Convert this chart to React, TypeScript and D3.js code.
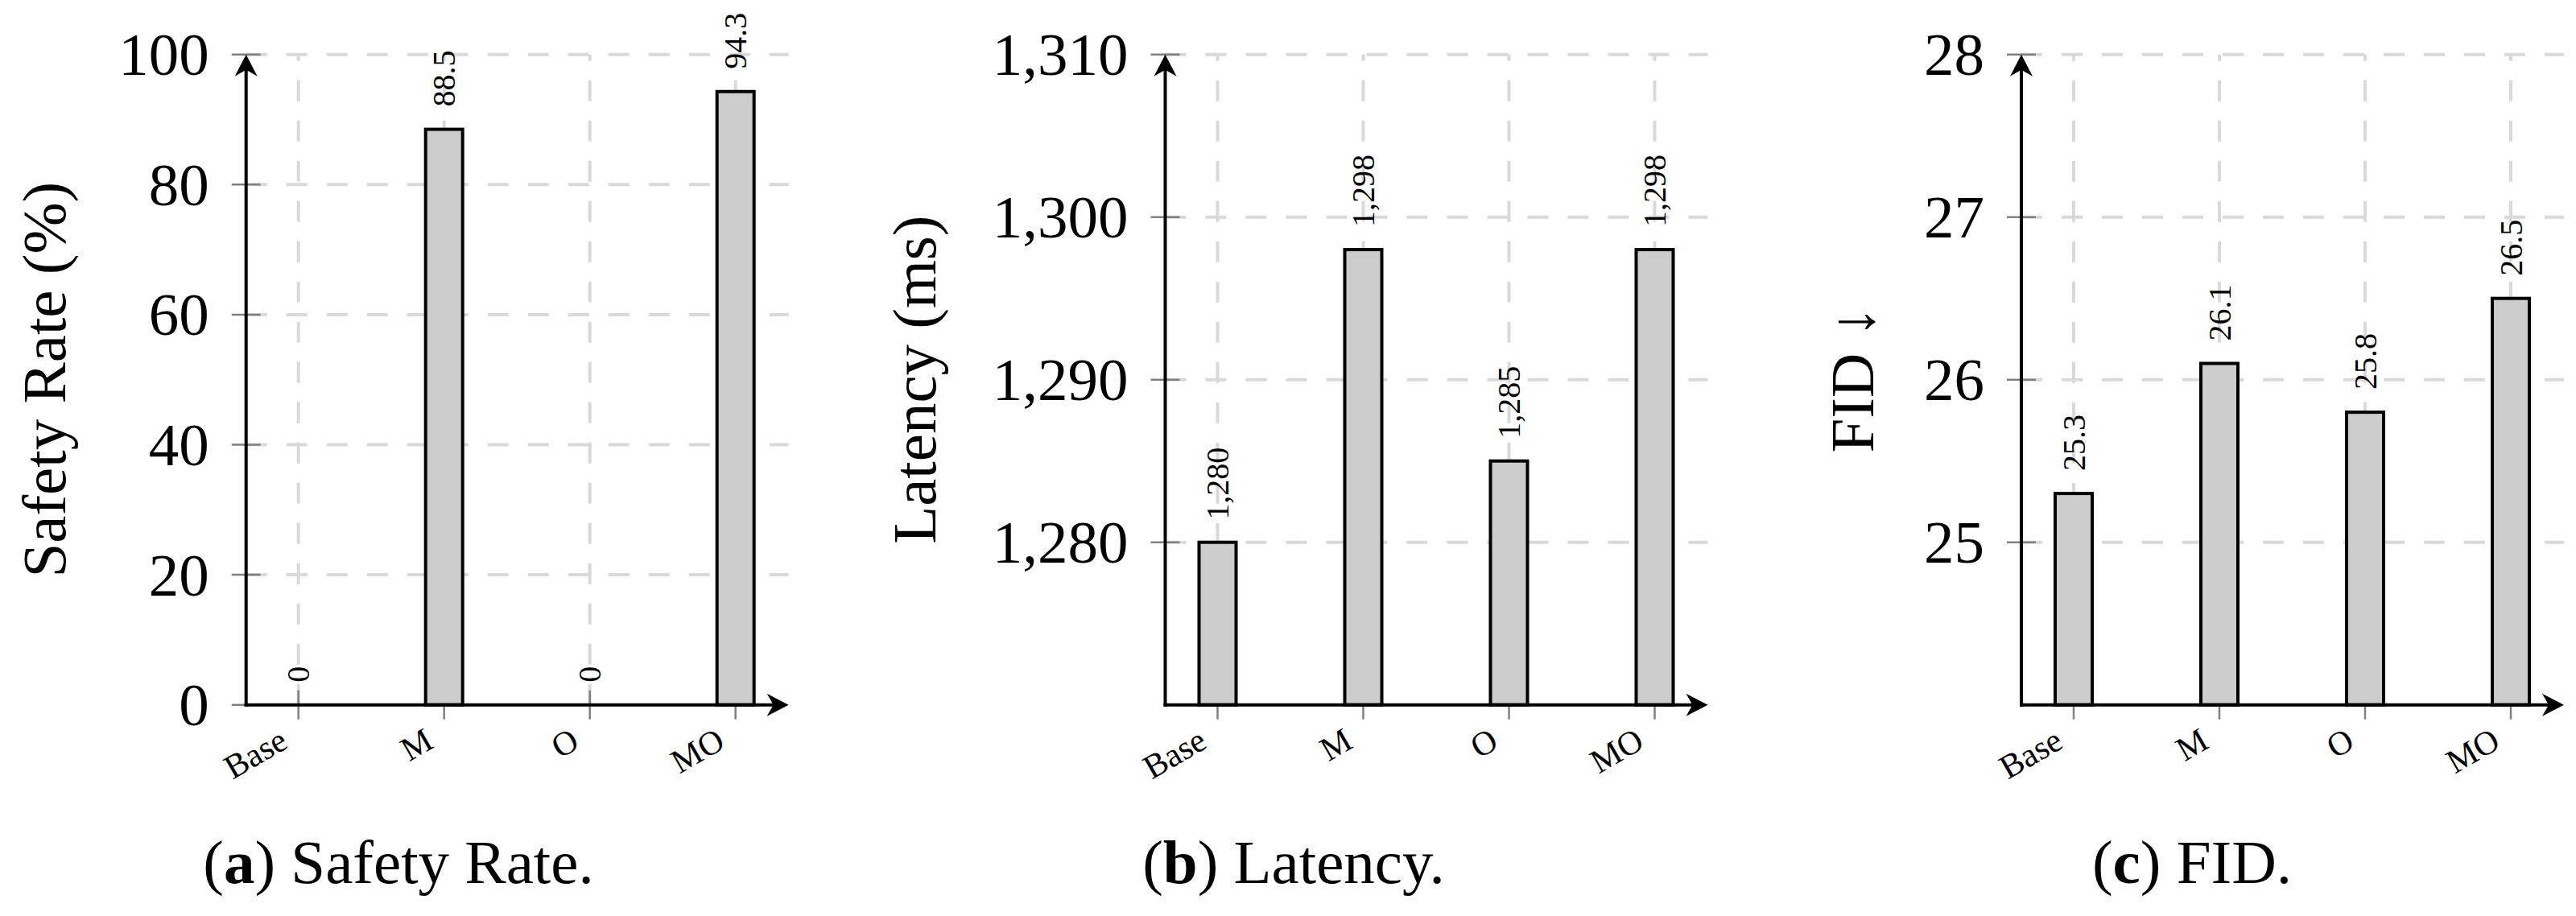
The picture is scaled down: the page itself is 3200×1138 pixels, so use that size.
import { useEffect } from "react";
import * as d3 from "d3";

// categories and values
const categories = ["Base", "M", "O", "MO"];
const safetyRate = [0, 88.5, 0, 94.3];
const latency = [1280, 1298, 1285, 1298];
const fid = [25.3, 26.1, 25.8, 26.5];

const safetyTicks = [0, 20, 40, 60, 80, 100];
const latencyTicks = [1280, 1290, 1300, 1310];
const fidTicks = [25, 26, 27, 28];

const W = 3200;
const H = 1138;
const TOP = 67.7;
const BOTTOM = 875.7;
const FONT = "'Liberation Serif', 'DejaVu Serif', serif";
const fmt = d3.format(",");

function Arrow({ x, y, angle }) {
  return (
    <path
      d="M0,0 L-27,-14 L-19,0 L-27,14 Z"
      transform={`translate(${x},${y}) rotate(${angle})`}
      fill="#000"
    />
  );
}

function Panel({ x0, values, domain, ticks, title, titleX, letter, caption, captionX }) {
  const len = 674;
  const x = d3.scalePoint(categories, [x0 + 65, x0 + 65 + 3 * 181]);
  const y = d3.scaleLinear(domain, [BOTTOM, TOP]);
  const midY = (TOP + BOTTOM) / 2;

  return (
    <g fontFamily={FONT}>
      {/* grid */}
      {ticks.filter(t => t !== domain[0]).map(t => (
        <line key={"gh" + t} x1={x0} x2={x0 + len} y1={y(t)} y2={y(t)}
          stroke="#d9d9d9" strokeWidth={4} strokeDasharray="26 24" />
      ))}
      {categories.map(c => (
        <line key={"gv" + c} x1={x(c)} x2={x(c)} y1={BOTTOM} y2={TOP}
          stroke="#d9d9d9" strokeWidth={4} strokeDasharray="26 24" />
      ))}
      {/* ticks */}
      {ticks.map(t => (
        <line key={"ty" + t} x1={x0 - 18} x2={x0 + 18} y1={y(t)} y2={y(t)} stroke="#808080" strokeWidth={2.5} />
      ))}
      {categories.map(c => (
        <line key={"tx" + c} x1={x(c)} x2={x(c)} y1={BOTTOM - 18} y2={BOTTOM + 18} stroke="#808080" strokeWidth={2.5} />
      ))}
      {/* bars */}
      {values.map((v, i) => (
        <rect key={"b" + i} x={x(categories[i]) - 23} width={46} y={y(v)} height={BOTTOM - y(v)}
          fill="#cccccc" stroke="#000" strokeWidth={4} />
      ))}
      {/* axes */}
      <line x1={x0} x2={x0} y1={BOTTOM + 2} y2={TOP + 10} stroke="#000" strokeWidth={4} />
      <Arrow x={x0} y={TOP} angle={-90} />
      <line x1={x0 - 2} x2={x0 + len - 10} y1={BOTTOM} y2={BOTTOM} stroke="#000" strokeWidth={4} />
      <Arrow x={x0 + len} y={BOTTOM} angle={0} />
      {/* value labels */}
      {values.map((v, i) => (
        <text key={"v" + i} transform={`translate(${x(categories[i])},${y(v) - 28}) rotate(-90)`}
          fontSize={40} dominantBaseline="central" textAnchor="start">{fmt(v)}</text>
      ))}
      {/* tick labels */}
      {ticks.map(t => (
        <text key={"yl" + t} x={x0 - 46} y={y(t)} fontSize={75} textAnchor="end" dominantBaseline="central">{fmt(t)}</text>
      ))}
      {categories.map(c => (
        <text key={"xl" + c} transform={`translate(${x(c) - 18},${BOTTOM + 40}) rotate(-30)`}
          fontSize={42} textAnchor="end" dominantBaseline="central">{c}</text>
      ))}
      {/* axis title */}
      <text transform={`translate(${titleX},${midY}) rotate(-90)`} fontSize={77} textAnchor="middle">{title}</text>
      {/* sub caption */}
      <text x={captionX} y={1097} fontSize={77} textAnchor="middle">
        (<tspan fontWeight="bold">{letter}</tspan>) {caption}
      </text>
    </g>
  );
}

export default function App() {
  useEffect(() => {
    document.body.style.margin = "0";
  }, []);

  return (
    <svg width={W} height={H} viewBox={`0 0 ${W} ${H}`} style={{ display: "block", background: "#fff" }}>
      <Panel x0={305.7} values={safetyRate} domain={[0, 100]} ticks={safetyTicks}
        title="Safety Rate (%)" titleX={81} letter="a" caption="Safety Rate." captionX={495} />
      <Panel x0={1447.5} values={latency} domain={[1270, 1310]} ticks={latencyTicks}
        title="Latency (ms)" titleX={1162} letter="b" caption="Latency." captionX={1607} />
      <Panel x0={2511} values={fid} domain={[24, 28]} ticks={fidTicks}
        title="FID ↓" titleX={2327} letter="c" caption="FID." captionX={2723} />
    </svg>
  );
}
